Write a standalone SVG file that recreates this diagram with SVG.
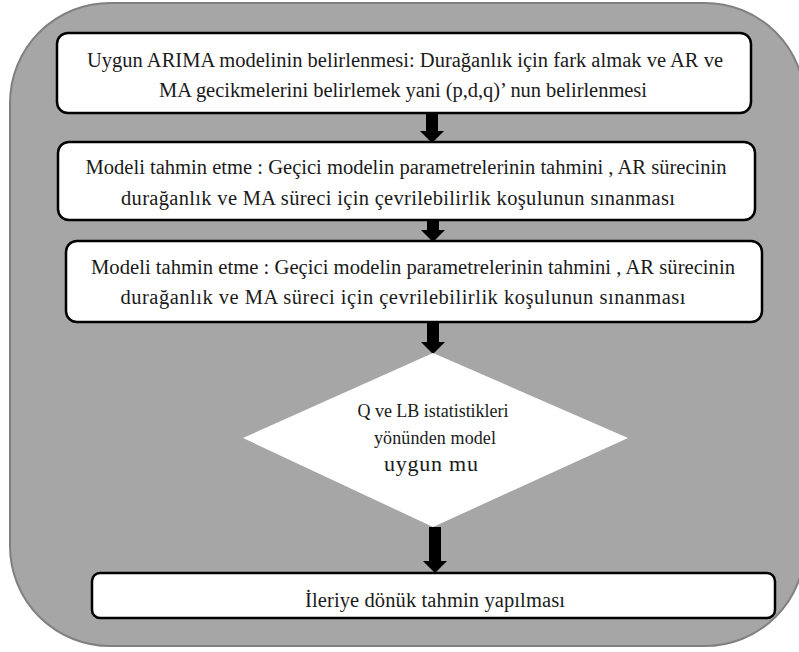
<svg xmlns="http://www.w3.org/2000/svg" width="799" height="652" viewBox="0 0 799 652">
<style>
.bg{fill:#a6a6a6;stroke:#808080;stroke-width:2}
.box{fill:#fff;stroke:#000;stroke-width:2.5}
.dia{fill:#fff;stroke:none}
.arr{fill:#000}
text{font-family:"Liberation Serif","Times New Roman",serif;fill:#1a1a1a;text-anchor:middle}
</style>
<rect x="0" y="0" width="799" height="652" fill="#fff"/>
<rect class="bg" x="10" y="3" width="795" height="643" rx="100" ry="100"/>
<g id="connectors">
<polygon class="arr" points="426,114 438,114 438,131 444,131 432,143 420,131 426,131"/>
<polygon class="arr" points="427,221 439,221 439,230 445,230 433,242 421,230 427,230"/>
<polygon class="arr" points="427,323 439,323 439,342 445,342 433,354 421,342 427,342"/>
<polygon class="arr" points="429,527 441,527 441,561 447,561 435,573 423,561 429,561"/>
</g>
<g id="n1">
<rect class="box" x="57" y="33" width="694" height="80" rx="11"/>
<text x="405" y="67" font-size="20.5" textLength="636" lengthAdjust="spacing">Uygun ARIMA modelinin belirlenmesi: Durağanlık için fark almak ve AR ve</text>
<text x="403" y="97" font-size="20.5" textLength="488" lengthAdjust="spacing">MA gecikmelerini belirlemek yani (p,d,q)’ nun belirlenmesi</text>
</g>
<g id="n2">
<rect class="box" x="58" y="142" width="697" height="78" rx="11"/>
<text x="406" y="174" font-size="20.5" textLength="641" lengthAdjust="spacingAndGlyphs">Modeli tahmin etme : Geçici modelin parametrelerinin tahmini , AR sürecinin</text>
<text x="398" y="205" font-size="20.5" textLength="554" lengthAdjust="spacing">durağanlık ve MA süreci için çevrilebilirlik koşulunun sınanması</text>
</g>
<g id="n3">
<rect class="box" x="66" y="241" width="696" height="81" rx="11"/>
<text x="413" y="274" font-size="20.5" textLength="644" lengthAdjust="spacingAndGlyphs">Modeli tahmin etme : Geçici modelin parametrelerinin tahmini , AR sürecinin</text>
<text x="403" y="304" font-size="20.5" textLength="565" lengthAdjust="spacing">durağanlık ve MA süreci için çevrilebilirlik koşulunun  sınanması</text>
</g>
<g id="n4">
<polygon class="dia" points="433,353 628,438 433,527 243,438"/>
<text x="433" y="417" font-size="18" textLength="151" lengthAdjust="spacing">Q ve LB istatistikleri</text>
<text x="435" y="444" font-size="18" textLength="122" lengthAdjust="spacing">yönünden model</text>
<text x="431" y="471" font-size="22" textLength="94" lengthAdjust="spacing">uygun mu</text>
</g>
<g id="n5">
<rect class="box" x="92" y="573" width="683" height="45" rx="8"/>
<text x="435" y="607" font-size="20.5" textLength="260" lengthAdjust="spacing">İleriye dönük tahmin yapılması</text>
</g>
</svg>
